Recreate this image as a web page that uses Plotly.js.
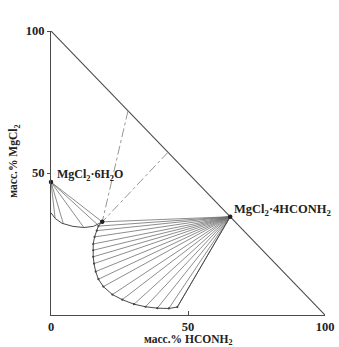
<!DOCTYPE html>
<html>
<head>
<meta charset="utf-8">
<script src="https://cdn.plot.ly/plotly-3.0.1.min.js"></script>
<style>html,body{margin:0;padding:0;background:#fff;}#chart{width:339px;height:347px;}</style>
</head>
<body>
<div id="chart"></div>
<script>
// Ternary diagram H2O – MgCl2 – HCONH2 (mass %), drawn as a right triangle
// x = масс.% HCONH2, y = масс.% MgCl2
var xTickVals = [0, 50, 100];
var yTickVals = [50, 100];

// Binary edge MgCl2 – HCONH2
var edgeX = [0, 100];
var edgeY = [100, 0];

// Compounds
var hexX = [0], hexY = [46.8];          // MgCl2·6H2O
var tetX = [65.4], tetY = [34.6];       // MgCl2·4HCONH2
var invX = [18.7], invY = [32.8];       // invariant point

// Dash-dot lines from the MgCl2–HCONH2 edge to the invariant point
var dashStartX = [28.1, 42.7];
var dashStartY = [71.9, 57.3];

// Solubility curve of MgCl2·6H2O
var hexCurveX = [0, 1.5, 4, 8, 12, 15.5, 18.7];
var hexCurveY = [36, 34, 32.3, 31.2, 30.8, 31.2, 32.8];
// Tie-line endpoints for MgCl2·6H2O
var hexTieX = [1.5, 4.5, 12, 17, 18.7];
var hexTieY = [34, 32.1, 30.8, 31.8, 32.8];

// Solubility curve of MgCl2·4HCONH2 (tie-line endpoints)
var fanX = [18.7, 17.3, 16.7, 15.9, 15.4, 15.4, 15.4, 15.7, 16.3, 17.3, 19.1, 22.4, 26.0, 30.3, 34.5, 38.8, 43.0, 46.1];
var fanY = [32.8, 31.3, 29.7, 27.5, 25.0, 22.8, 20.5, 18.1, 15.3, 12.6, 10.0, 7.2, 5.4, 3.8, 2.9, 2.4, 2.3, 2.8];

var lineCol = '#4a4a4a';
var tieCol = '#707070';
var serif = 'Liberation Serif, Times New Roman, serif';

function fanTrace(ox, oy, xs, ys) {
  var X = [], Y = [];
  for (var i = 0; i < xs.length; i++) {
    X.push(ox, xs[i], null);
    Y.push(oy, ys[i], null);
  }
  return {x: X, y: Y};
}

var bigFan = fanTrace(tetX[0], tetY[0], fanX, fanY);
var smallFan = fanTrace(hexX[0], hexY[0], hexTieX, hexTieY);
var dashX = [], dashY = [];
for (var i = 0; i < dashStartX.length; i++) {
  dashX.push(dashStartX[i], invX[0], null);
  dashY.push(dashStartY[i], invY[0], null);
}

var traces = [
  {x: edgeX, y: edgeY, mode: 'lines', line: {color: lineCol, width: 1.1}, cliponaxis: false, hoverinfo: 'skip'},
  {x: dashX, y: dashY, mode: 'lines', line: {color: '#8a8a8a', width: 0.9, dash: 'dashdot'}, cliponaxis: false, hoverinfo: 'skip'},
  {x: bigFan.x, y: bigFan.y, mode: 'lines', line: {color: tieCol, width: 0.8}, cliponaxis: false, hoverinfo: 'skip'},
  {x: smallFan.x, y: smallFan.y, mode: 'lines', line: {color: tieCol, width: 0.8}, cliponaxis: false, hoverinfo: 'skip'},
  {x: fanX.concat([tetX[0]]), y: fanY.concat([tetY[0]]), mode: 'lines+markers', line: {color: lineCol, width: 1}, marker: {size: 2.2, color: '#444'}, cliponaxis: false, hoverinfo: 'skip'},
  {x: hexCurveX, y: hexCurveY, mode: 'lines', line: {color: lineCol, width: 1}, cliponaxis: false, hoverinfo: 'skip'},
  {x: hexX.concat(tetX, invX), y: hexY.concat(tetY, invY), mode: 'markers', marker: {size: 4.5, color: '#222'}, cliponaxis: false, hoverinfo: 'skip'}
];

var layout = {
  width: 339, height: 347,
  margin: {l: 51, r: 14, t: 31, b: 32},
  paper_bgcolor: '#fff', plot_bgcolor: '#fff',
  showlegend: false,
  font: {family: serif, color: '#222'},
  xaxis: {
    range: [0, 100], showgrid: false, zeroline: false,
    showline: true, linecolor: lineCol, linewidth: 1.1,
    tickvals: xTickVals, ticktext: xTickVals.map(String),
    ticks: 'inside', ticklen: 4, tickcolor: lineCol,
    tickfont: {family: serif, size: 12.5, color: '#222', weight: 'bold'}
  },
  yaxis: {
    range: [0, 100], showgrid: false, zeroline: false,
    showline: true, linecolor: lineCol, linewidth: 1.1,
    tickvals: yTickVals, ticktext: yTickVals.map(String),
    ticks: 'outside', ticklen: 3, tickcolor: lineCol,
    tickfont: {family: serif, size: 12.5, color: '#222', weight: 'bold'}
  },
  annotations: [
    {x: hexX[0], y: hexY[0], xref: 'x', yref: 'y', text: '<b>MgCl<sub>2</sub>·6H<sub>2</sub>O</b>',
     showarrow: false, xanchor: 'left', yanchor: 'middle', xshift: 4, yshift: 7,
     font: {family: serif, size: 12, color: '#222'}},
    {x: tetX[0], y: tetY[0], xref: 'x', yref: 'y', text: '<b>MgCl<sub>2</sub>·4HCONH<sub>2</sub></b>',
     showarrow: false, xanchor: 'left', yanchor: 'middle', xshift: 2, yshift: 7,
     font: {family: serif, size: 12.5, color: '#222'}},
    {x: 0.5, y: -0.087, xref: 'paper', yref: 'paper', text: '<b>масс.% HCONH<sub>2</sub></b>',
     showarrow: false, xanchor: 'center', yanchor: 'middle',
     font: {family: serif, size: 11.5, color: '#222'}},
    {x: -0.135, y: 0.54, xref: 'paper', yref: 'paper', text: '<b>масс.% MgCl<sub>2</sub></b>',
     showarrow: false, textangle: -90, xanchor: 'center', yanchor: 'middle',
     font: {family: serif, size: 11.5, color: '#222'}}
  ]
};

Plotly.newPlot('chart', traces, layout, {displayModeBar: false, staticPlot: true});
</script>
</body>
</html>
